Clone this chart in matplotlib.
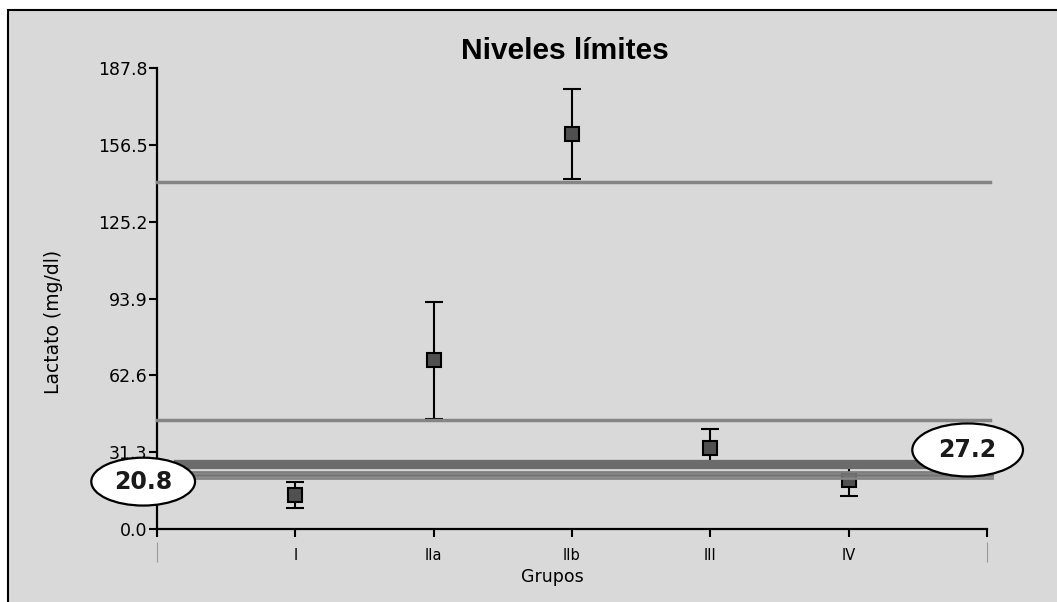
import numpy as np
import matplotlib.pyplot as plt
from matplotlib.patches import Ellipse, Rectangle

# lactate per group (mean and error)
groups = ['I', 'IIa', 'IIb', 'III', 'IV']
lactate_mean = [14.0, 68.7, 160.8, 33.1, 20.0]
lactate_err = [5.3, 23.9, 18.3, 7.6, 6.4]

y_ticks = [0.0, 31.3, 62.6, 93.9, 125.2, 156.5, 187.8]

# limit lines: two single levels plus the narrow band between 20.8 and 27.2
upper_limits = [141.3, 44.4]
band_limits = [27.2, 25.8, 23.2, 22.0, 20.8]
band_colors = ['#6b6b6b', '#6b6b6b', '#7d7d7d', '#747474', '#858585']
band_widths = [3.8, 3.8, 2.0, 2.0, 2.0]
band_low, band_high = 20.8, 27.2

fig = plt.figure(figsize=(10.57, 6.02), dpi=100, facecolor='white')
fig.patches.append(Rectangle((7.5 / 1057, -0.05), 1.1, 1 - 10.3 / 602 + 0.05,
                             transform=fig.transFigure, facecolor='#d9d9d9',
                             edgecolor='black', linewidth=1.5, zorder=-5))

ax = fig.add_axes([157 / 1057, 73 / 602, 830 / 1057, 461 / 602])
ax.set_facecolor('none')

x = np.arange(1, len(groups) + 1)
ax.errorbar(x, lactate_mean, yerr=lactate_err, fmt='s', color='black',
            ms=10, mfc='#505050', mec='black', mew=1.5,
            elinewidth=1.5, capsize=6.5, capthick=1.5, zorder=3)

for v in upper_limits:
    ax.axhline(v, xmin=0, xmax=1.004, color='#858585', lw=2.5, zorder=4, clip_on=False)

for v, c, w in zip(band_limits, band_colors, band_widths):
    ax.axhline(v, xmin=0.023, xmax=1.006, color=c, lw=w, zorder=4, clip_on=False)

# value tags for the band edges
for val, cx, cy, ew, eh in [(band_low, -0.10, 19.3, 0.75, 19.5),
                            (band_high, 5.86, 32.2, 0.80, 21.6)]:
    ax.add_patch(Ellipse((cx, cy), ew, eh, facecolor='white', edgecolor='black',
                         lw=1.6, zorder=6, clip_on=False))
    ax.text(cx, cy, f'{val:.1f}', ha='center', va='center', fontsize=17,
            fontweight='bold', color='#1a1a1a', zorder=7)

ax.set_xlim(0, 6)
ax.set_ylim(0, 187.8)
ax.set_yticks(y_ticks)
ax.set_yticklabels([f'{v:.1f}' for v in y_ticks])
ax.set_xticks(range(0, len(groups) + 2))
ax.set_xticklabels([''] + groups + [''])

for side in ['top', 'right']:
    ax.spines[side].set_visible(False)
for side in ['left', 'bottom']:
    ax.spines[side].set_linewidth(1.6)
    ax.spines[side].set_color('black')

ax.tick_params(axis='y', direction='out', length=6, width=1.5, labelsize=12.5, pad=1)
ax.tick_params(axis='x', direction='out', length=6, width=1.5, labelsize=10.5, pad=8)
ax.yaxis.get_major_ticks()[0].tick1line.set_color('white')

ax.vlines([0, 6], -0.028, -0.072, transform=ax.get_xaxis_transform(),
          colors='#9a9a9a', lw=0.8, clip_on=False)

ax.text(0.4916, 1.037, 'Niveles límites', transform=ax.transAxes, ha='center',
        va='center', fontsize=21.5, fontweight='bold', family='Liberation Sans')

ax.set_xlabel('Grupos', fontsize=12.5)
ax.xaxis.set_label_coords(0.476, -0.0846)
ax.set_ylabel('Lactato (mg/dl)', fontsize=13.5)
ax.yaxis.set_label_coords(-0.113, 0.449)

fig.savefig('out.png', dpi=100, facecolor=fig.get_facecolor())
